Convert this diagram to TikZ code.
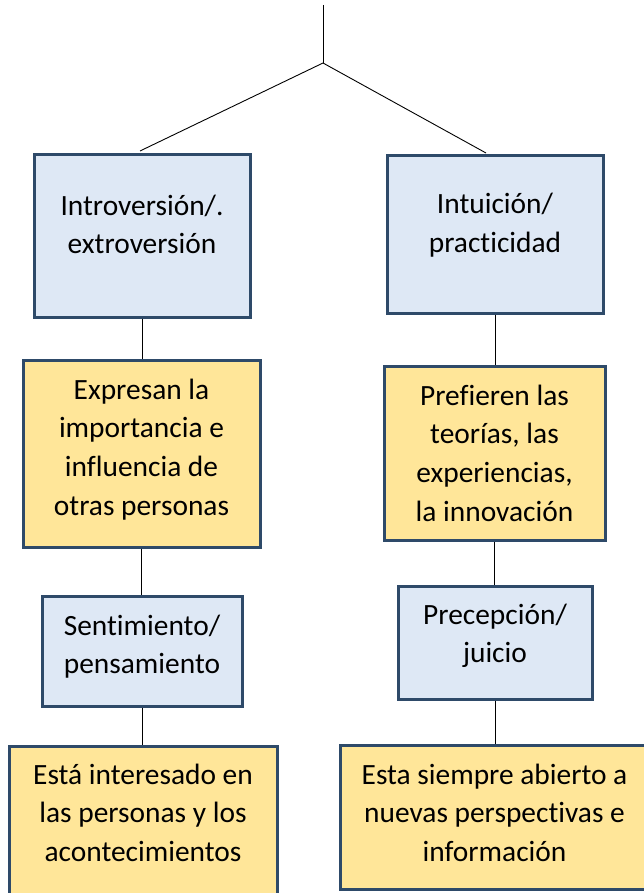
\documentclass[tikz,border=0pt]{standalone}
\usepackage{fontspec}
\setmainfont{Carlito}[Ligatures=NoCommon]
\definecolor{boxblue}{HTML}{DEE8F5}
\definecolor{boxgold}{HTML}{FFE699}
\definecolor{boxline}{HTML}{2E4A69}
\tikzset{
  card/.style={draw=boxline, line width=3pt, rectangle, inner sep=0pt},
  bluecard/.style={card, fill=boxblue},
  goldcard/.style={card, fill=boxgold},
  txt/.style={anchor=base, inner sep=0pt, font=\fontsize{29.4}{38.7}\selectfont, text=black},
  link/.style={draw=black, line width=0.9pt}
}
\newcommand{\lines}[1]{\begin{tabular}[t]{@{}c@{}}#1\end{tabular}}
\begin{document}
\begin{tikzpicture}[x=1pt,y=-1pt]
\useasboundingbox (0,0) rectangle (643,893);
% boxes
\node[bluecard, minimum width=216pt, minimum height=162pt] (b1) at (142,236) {};
\node[bluecard, minimum width=216pt, minimum height=157pt] (b2) at (495,234.5) {};
\node[goldcard, minimum width=237pt, minimum height=187pt] (b3) at (141.5,453.5) {};
\node[goldcard, minimum width=221pt, minimum height=174pt] (b4) at (494.5,453) {};
\node[bluecard, minimum width=200pt, minimum height=110pt] (b5) at (142,651) {};
\node[bluecard, minimum width=194pt, minimum height=113pt] (b6) at (495,642.5) {};
\node[goldcard, minimum width=268pt, minimum height=152pt] (b7) at (143,822) {};
\node[goldcard, minimum width=309pt, minimum height=144pt] (b8) at (494.5,817) {};
% texts
\node[txt] (t1) at (142,215) {\lines{Introversión/.\\extroversión}};
\node[txt] (t2) at (495,214) {\lines{Intuición/\\practicidad}};
\node[txt] (t3) at (141.5,399) {\lines{Expresan la\\importancia e\\influencia de\\otras personas}};
\node[txt] (t4) at (494.5,405) {\lines{Prefieren las\\teorías, las\\experiencias,\\la innovación}};
\node[txt] (t5) at (142,635) {\lines{Sentimiento/\\pensamiento}};
\node[txt] (t6) at (495,624) {\lines{Precepción/\\juicio}};
\node[txt] (t7) at (143,784) {\lines{Está interesado en\\las personas y los\\acontecimientos}};
\node[txt] (t8) at (494.5,784) {\lines{Esta siempre abierto a\\nuevas perspectivas e\\información}};
% top branching
\coordinate (top) at (323,5);
\coordinate (j) at (323,63);
\coordinate (lend) at (140,151);
\coordinate (rend) at (486,153);
\draw[link] (top) -- (j);
\draw[link] (j) -- (lend);
\draw[link] (j) -- (rend);
% vertical connectors
\draw[link] (b1.south) -- (b1.south |- b3.north);
\draw[link] (b2.south) -- (b2.south |- b4.north);
\draw[link] (b3.south) -- (b3.south |- b5.north);
\draw[link] (b4.south) -- (b4.south |- b6.north);
\draw[link] (b5.south) -- (b5.south |- b7.north);
\draw[link] (b6.south) -- (b6.south |- b8.north);
\end{tikzpicture}
\end{document}
